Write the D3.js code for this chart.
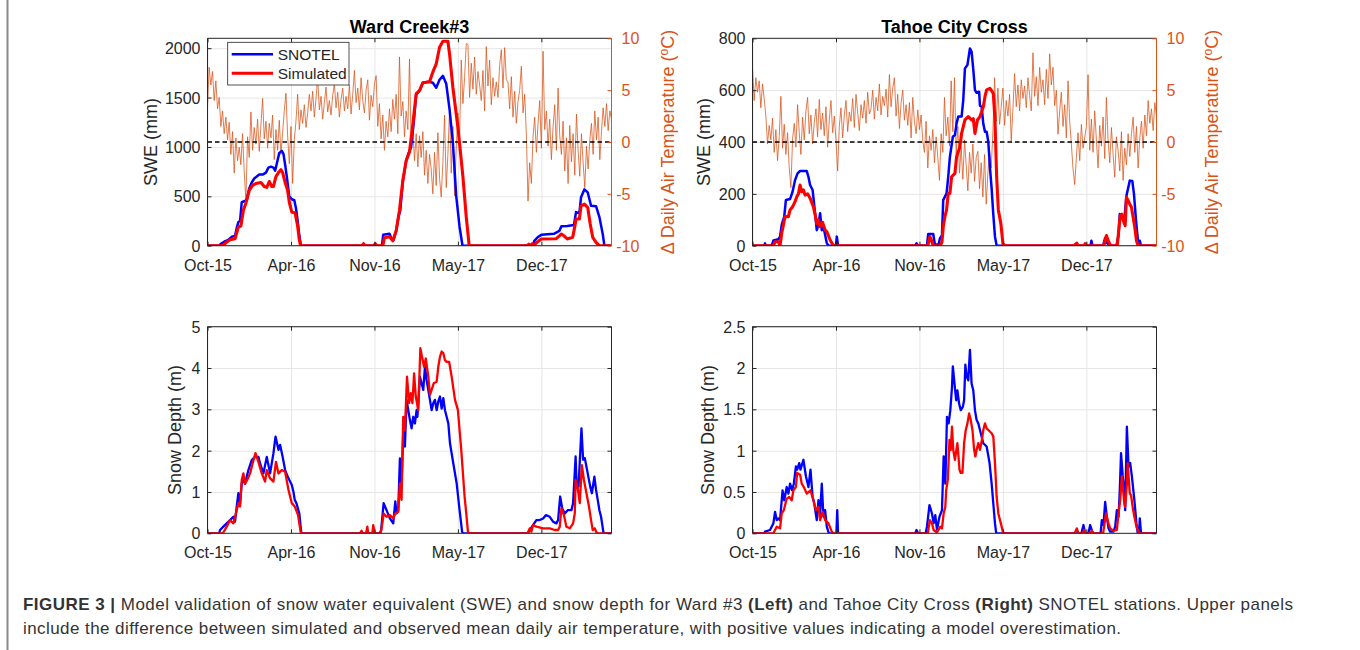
<!DOCTYPE html>
<html>
<head>
<meta charset="utf-8">
<script src="https://cdn.jsdelivr.net/npm/d3@7"></script>
<style>
  html, body { margin: 0; padding: 0; background: #ffffff; }
  svg text { font-family: "Liberation Sans", Arial, Helvetica, sans-serif; }
</style>
</head>
<body>
<svg id="fig" width="1360" height="650"></svg>
<script>
// ---------------------------------------------------------------
// Time axis: days since 1 Oct 2015
// ---------------------------------------------------------------
const dayDomain = [0, 968];
const dayTicks = [0, 200, 400, 600, 800];
const tickLabels = ["Oct-15", "Apr-16", "Nov-16", "May-17", "Dec-17"];

const sweTicksWard = [0, 500, 1000, 1500, 2000];
const sweTicksTahoe = [0, 200, 400, 600, 800];
const depthTicksWard = [0, 1, 2, 3, 4, 5];
const depthTicksTahoe = [0, 0.5, 1, 1.5, 2, 2.5];
const tempTicks = [-10, -5, 0, 5, 10];

// Temperature difference (simulated - observed), one value every tempStep days
const tempStep = 4;
const wardTemp = [
  3.4, 7.2, 5.5, 6.8, 4.0, 5.9, 3.2, 4.3, 1.5, 3.0, 0.8, 2.4,
  0.2, 1.9, -1.2, 1.0, -3.0, 0.4, -1.8, -0.5, -2.2, 0.8, -2.9, -5.7,
  0.5, -1.5, 2.9, -0.8, 1.4, -0.2, 2.2, -0.9, 1.6, 4.2, 0.3, 2.0, -0.6, 1.8,
  0.4, 2.6, -1.7, 1.2, -0.8, 2.1, -1.2, 0.9, 3.0, 4.7, 0.6, -2.1, 1.5, -4.0, 0.2,
  2.0, 4.6, 1.2, 3.1, 1.8, 3.6, 1.4, 2.8, 4.6,
  3.0, 4.9, 2.4, 4.2, 6.2, 3.1, 4.4, 2.2, 3.8, 5.3, 2.9, 4.0,
  2.6, 4.5, 5.6, 3.3, 4.8, 2.4, 4.1, 5.2, 3.0, 4.4,
  3.2, 5.5, 2.7, 4.6, 6.9, 3.8, 5.2, 3.1, 6.2, 4.0,
  2.8, 5.0, 6.0, 2.1, 4.5, 3.4, 5.6, 6.4,
  1.5, 3.7, 0.3, 2.6, -0.8, 2.0, 0.5, 3.2,
  1.0, 4.1, 2.2, 4.6, 0.8, 8.2, 2.5, 3.9, 0.5, 3.0,
  1.2, 8.0, -0.6, 1.4, -1.8, 0.8, -2.4, 0.6,
  -1.5, 1.0, -3.2, -0.8, -4.0, -1.2,
  -2.6, -5.0, -1.0, -4.2, 0.9, -3.5, -5.3, -2.0, 2.6, -4.4, -1.2, 3.2,
  -3.0, 1.5, -5.2, -0.5, 2.8, 0.4,
  7.9, 3.7, 6.2, 9.5,
  9.4, 4.3, 7.6, 5.1, 8.2, 4.6, 6.8, 5.5,
  4.0, 6.9, 3.0, 9.2, 5.4, 7.9, 3.6, 6.2, 4.4, 5.8,
  4.3, 7.4, 8.9, 5.2, 9.1, 6.0,
  5.8, 3.2, 6.3, 2.4, 4.9, 1.8, 3.9, 5.0,
  7.3, 2.8, 4.6, 0.7,
  -5.7, -2.0, -4.0,
  0.5, 2.4, -1.0, 1.8, 4.0, -0.6,
  8.75, 1.2, 3.0, -0.4, 2.2, -1.7, 1.5, 3.6, -0.8, 5.2, 0.6,
  -1.2, 2.0, -2.8, 0.4, -4.0, 1.6, -1.9, 0.8, -3.2, 2.7,
  -0.8, -3.3, 0.8, -2.0, -4.4, -0.4, -2.6, 0.2,
  1.8, -1.2, 3.0, 0.2, 2.4, -1.7, 1.0, 3.3,
  1.5, 3.7, 1.1, 3.0, 2.2
];
const tahoeTemp = [
  7.2, 4.0, 6.2, 4.8, 5.9, 3.3, 5.6, 4.2,
  2.5, -0.2, 1.6,
  0.2, 2.3, -1.0, 1.2, -1.8, 0.5, 4.4, -0.6,
  1.7, -1.2, 0.9, -2.5, -4.4, 0.3,
  1.8, -0.5, 3.6, 0.9, -1.2, 2.4, 0.2, 3.0,
  4.3, 0.8, 2.6, -0.2, 1.9, 3.2, 0.5, 4.1, 1.2, 2.8,
  0.6, 3.4, -0.5, 2.1, 4.0, 0.9, 2.5, 0.2,
  -2.8, 1.5, 3.3, 0.4, 2.6, 4.0, 1.0, 2.9,
  2.0, 4.2, 1.4, 4.6, 2.8, 1.1, 3.6, 2.3, 4.0, 1.8, 4.8, 2.7,
  3.2, 5.0, 2.2, 4.3, 3.0, 5.6, 2.6, 4.4, 3.5, 5.1, 2.4, 6.5,
  3.4, 5.2, 6.2, 2.5, 4.6, 1.3, 3.8, 5.0, 2.1, 3.6,
  1.6, 3.8, 0.4, 4.3, 2.0, 0.8, 3.1, 1.2, 2.6, 0.1,
  -1.0, 2.0, -2.5, 0.6, -0.8, 1.2, -2.0, 0.5,
  -1.5, -3.7, 0.8, -1.0,
  4.3, 0.6, 2.4, -0.4, 5.9, 1.0,
  6.2, -1.2, 1.5, -3.0,
  -0.5, -3.6, 0.2, -2.2, -4.7, -1.0, -3.0, -0.2,
  -3.8, -1.5, -0.9, -4.5, -2.0, -5.3, -1.2, -6.0, -3.0, -0.8,
  -2.5, 1.0, 6.2, 2.0, 5.2, 1.7,
  3.4, 5.2, 1.6, 4.0, 2.5, 4.6, 0.1, 3.2,
  6.6, 3.4, 5.5, 3.0, 6.0, 4.2, 5.4, 3.3, 6.2, 4.5,
  3.0, 8.6, 4.4, 6.3, 3.5, 7.2, 4.8, 6.0, 3.6, 7.0, 4.2, 8.5,
  5.5, 7.2, 3.5, 5.0, 0.75, 3.0,
  4.8, 1.5, 3.6, 0.4, 5.9, 2.0,
  -0.2, -2.6, -4.1, -1.5,
  0.9, -1.8, 1.7, -0.6, 0.4, 1.5, 6.5, -0.8,
  2.2, -1.0, 3.0, 0.2, -2.5, 1.6, -0.4, 2.4, -1.6, 4.3,
  0.2, -2.0, 1.4, -1.2, -3.4, 0.5, -0.8, -2.8, 1.0, -3.7, -0.6, -2.2, 0.8, -1.4,
  0.8, 2.4, -1.0, 1.5, -2.5, 0.4, 2.0, -0.6,
  2.6, 0.6, 4.0, 1.8, 3.2, 1.1, 3.8, 2.5
];

// Snow water equivalent (mm) as [day, value] vertices
const wardSweObs = [
  [0,0],[28,0],[32,20],[40,40],[50,60],[58,90],[66,100],[70,180],[74,240],[78,250],[82,440],[88,450],
  [94,460],[100,580],[106,640],[112,680],[118,700],[124,720],[132,720],[140,740],[146,790],[152,800],
  [158,790],[162,760],[166,830],[172,940],[178,960],[182,930],[186,820],[190,700],[196,500],[202,470],
  [208,460],[212,380],[216,250],[220,100],[224,0],
  [418,0],[421,110],[436,120],[440,80],[446,60],[452,150],[458,300],[462,360],[468,650],[476,860],
  [482,940],[488,1000],[494,1240],[500,1530],[508,1570],[516,1650],[530,1660],[540,1650],[548,1600],
  [556,1680],[564,1720],[572,1640],[580,1380],[588,1040],[596,500],[604,190],[611,0],
  [780,0],[783,50],[791,85],[800,110],[830,120],[843,150],[848,196],[862,200],[878,210],[883,340],
  [891,330],[895,490],[903,570],[911,540],[919,404],[931,400],[939,290],[947,118],[951,0],[968,0]
];
const wardSweSim = [
  [0,0],[36,0],[44,30],[54,60],[66,70],[74,190],[80,200],[86,360],[92,430],[100,560],[108,610],
  [116,630],[128,640],[136,600],[142,590],[148,650],[154,600],[158,600],[164,700],[170,740],[176,770],
  [180,740],[186,640],[192,560],[196,440],[202,340],[210,330],[216,200],[220,60],[223,0],
  [370,0],[374,20],[378,0],[398,0],[402,20],[406,0],[420,0],[424,80],[436,90],[444,50],[452,150],
  [460,360],[468,660],[476,860],[484,950],[492,1230],[500,1540],[508,1570],[516,1650],[532,1660],
  [540,1760],[548,1840],[556,2010],[564,2070],[576,2070],[580,1940],[588,1600],[600,1200],[612,700],
  [620,290],[627,0],
  [765,0],[770,15],[774,0],[778,20],[782,0],[788,30],[800,68],[835,70],[843,100],[848,118],[854,100],
  [862,68],[875,85],[879,170],[883,270],[891,270],[895,404],[903,421],[911,387],[917,219],[923,85],
  [931,34],[939,0],[968,0]
];
const tahoeSweObs = [
  [0,0],[28,0],[30,9],[32,0],[46,0],[50,20],[62,25],[66,35],[70,80],[76,112],[80,176],[90,180],
  [96,208],[102,253],[108,279],[114,288],[130,288],[134,266],[138,234],[144,215],[150,125],[154,60],
  [158,80],[162,125],[166,60],[170,73],[178,10],[182,0],[200,0],[202,35],[205,0],
  [390,0],[393,9],[396,0],[418,0],[421,45],[433,45],[437,5],[446,5],[449,28],[454,40],[457,176],
  [465,202],[469,266],[473,343],[480,420],[485,427],[489,472],[493,498],[501,498],[505,562],[509,684],
  [515,697],[521,761],[525,748],[529,680],[533,600],[537,590],[543,594],[545,540],[549,536],[553,470],
  [557,440],[561,440],[565,400],[569,300],[573,220],[577,120],[581,35],[585,0],
  [810,0],[812,19],[815,0],[840,0],[845,30],[850,10],[855,0],[872,0],[877,40],[880,122],[886,110],
  [888,96],[892,120],[896,193],[904,251],[910,250],[914,200],[919,96],[924,13],[926,0],[928,19],
  [931,0],[968,0]
];
const tahoeSweSim = [
  [0,0],[50,0],[54,15],[62,15],[66,0],[70,48],[78,112],[86,112],[90,138],[96,150],[102,170],[106,189],
  [110,200],[114,234],[118,208],[122,215],[126,195],[132,200],[138,183],[146,150],[150,120],[154,86],
  [158,100],[162,73],[168,90],[174,60],[178,54],[186,22],[194,0],
  [420,0],[425,35],[429,20],[433,0],[450,0],[454,15],[457,73],[461,112],[465,138],[469,202],[473,202],
  [477,266],[485,279],[489,343],[497,382],[501,433],[509,485],[517,498],[525,485],[529,490],[533,433],
  [539,485],[545,498],[553,536],[557,575],[561,601],[569,607],[577,588],[581,485],[585,266],[589,138],
  [595,86],[600,9],[605,0],
  [770,0],[777,10],[780,0],[795,0],[797,8],[800,0],[842,0],[848,39],[852,20],[858,0],[874,0],[877,50],
  [881,115],[885,122],[890,90],[893,77],[896,187],[900,174],[904,160],[908,148],[912,110],[916,71],
  [920,19],[924,0],[968,0]
];

// Snow depth (m) as [day, value] vertices
const wardDepthObs = [
  [0,0],[28,0],[30,0.08],[38,0.16],[46,0.24],[54,0.32],[62,0.4],[66,0.28],[70,0.65],[74,0.97],[78,0.73],
  [82,1.2],[86,1.33],[90,1.2],[94,1.37],[98,1.53],[102,1.65],[106,1.77],[114,1.85],[122,1.85],[126,1.69],
  [134,1.45],[142,1.85],[150,1.45],[158,1.94],[163,2.34],[170,2.02],[174,2.14],[180,1.85],[186,1.53],
  [194,1.33],[202,1.17],[206,1.0],[209,0.81],[213,0.73],[220,0.48],[224,0.08],[225,0],
  [413,0],[416,0.08],[419,0.4],[422,0.73],[429,0.56],[437,0.36],[445,0.24],[450,0.77],[453,0.48],
  [457,0.56],[461,1.81],[465,1.17],[469,2.46],[473,2.1],[477,3.23],[481,2.98],[485,2.74],[489,2.54],
  [493,2.82],[497,2.66],[501,2.98],[503,2.82],[509,3.79],[513,3.63],[517,3.47],[521,4.03],[525,3.71],
  [529,3.47],[533,3.23],[537,2.98],[541,3.15],[545,3.23],[549,2.98],[553,3.19],[557,3.31],[561,3.02],
  [565,3.27],[569,2.98],[573,2.82],[577,2.66],[581,2.18],[589,1.69],[597,1.21],[604,0.56],[610,0.04],
  [612,0],
  [768,0],[772,0.08],[780,0.2],[788,0.32],[796,0.32],[804,0.36],[811,0.44],[820,0.4],[828,0.28],
  [836,0.24],[840,0.32],[845,0.89],[850,0.6],[856,0.48],[863,0.56],[872,0.56],[876,0.73],[882,1.86],
  [884,1.29],[889,1.13],[896,2.54],[900,1.78],[904,1.82],[908,1.61],[911,1.45],[917,1.13],[921,0.97],
  [927,1.37],[931,1.05],[935,0.81],[939,0.56],[943,0.4],[949,0],[968,0]
];
const wardDepthSim = [
  [0,0],[36,0],[38,0.02],[46,0.16],[54,0.32],[62,0.24],[70,0.56],[74,0.73],[78,0.65],[82,1.29],
  [86,1.45],[90,1.2],[95,1.29],[102,1.45],[108,1.69],[115,1.94],[122,1.73],[130,1.45],[138,1.25],
  [142,1.53],[150,1.33],[158,1.25],[164,1.73],[170,1.45],[178,1.53],[186,1.49],[194,1.05],[202,0.73],
  [209,0.65],[217,0.44],[223,0.04],[225,0],
  [365,0],[369,0.06],[372,0],[380,0],[383,0.16],[385,0],[395,0],[397,0.2],[401,0],[415,0],[419,0.24],
  [422,0.48],[429,0.4],[437,0.44],[445,0.36],[450,0.48],[457,0.52],[461,1.21],[465,0.81],[469,2.82],
  [473,2.5],[478,3.79],[483,3.15],[487,3.39],[491,3.15],[495,3.87],[499,3.31],[505,2.98],[510,4.48],
  [514,4.27],[519,4.03],[523,4.23],[529,3.79],[533,3.35],[537,3.47],[542,3.63],[549,3.67],[553,4.03],
  [557,4.27],[561,4.4],[565,4.36],[569,4.19],[573,4.15],[579,4.15],[585,3.79],[593,3.23],[600,2.98],
  [608,2.02],[616,0.89],[620,0.48],[624,0.04],[627,0],
  [765,0],[768,0.02],[772,0.12],[776,0.04],[780,0.2],[788,0.16],[804,0.12],[820,0.12],[832,0.08],
  [840,0.08],[844,0.16],[848,0.6],[854,0.44],[860,0.16],[868,0.12],[876,0.24],[880,0.48],[882,1.29],
  [887,1.09],[892,0.73],[897,1.65],[902,1.29],[908,0.97],[914,0.65],[919,0.32],[923,0.08],[928,0.12],
  [932,0.02],[935,0],[968,0]
];
const tahoeDepthObs = [
  [0,0],[28,0],[30,0.02],[42,0.04],[50,0.12],[54,0.26],[58,0.16],[62,0.18],[66,0.16],[72,0.52],[76,0.4],
  [82,0.56],[86,0.48],[90,0.6],[95,0.52],[99,0.6],[104,0.81],[107,0.77],[112,0.85],[115,0.77],[122,0.89],
  [128,0.69],[134,0.56],[139,0.77],[144,0.44],[148,0.36],[154,0.16],[158,0.4],[162,0.24],[166,0.6],
  [170,0.2],[174,0.28],[178,0.08],[183,0],[201,0],[203,0.28],[205,0],
  [390,0],[393,0.04],[397,0],[415,0],[418,0.08],[424,0.34],[430,0.24],[434,0.12],[438,0.22],[442,0.04],
  [448,0.2],[454,0.28],[458,0.93],[462,0.6],[466,1.41],[470,1.33],[474,1.49],[478,1.77],[480,2.02],
  [484,1.81],[488,1.61],[491,1.73],[495,1.57],[499,1.49],[504,1.53],[507,1.61],[510,2.04],[513,1.9],
  [517,1.85],[521,2.22],[525,1.81],[529,1.73],[533,1.49],[537,1.37],[541,1.33],[545,1.25],[553,1.09],
  [561,1.05],[568,0.85],[573,0.6],[577,0.36],[581,0.12],[584,0],
  [788,0],[793,0.1],[797,0],[805,0],[809,0.1],[814,0.02],[817,0],[834,0],[837,0.16],[841,0.1],
  [845,0.38],[849,0.2],[853,0.06],[857,0.02],[865,0.02],[869,0.08],[873,0.28],[877,0.2],[880,0.52],
  [883,0.97],[887,0.7],[889,0.6],[893,0.28],[897,1.29],[901,0.81],[905,0.85],[909,0.69],[915,0.4],
  [920,0.12],[923,0],[926,0],[928,0.18],[931,0],[968,0]
];
const tahoeDepthSim = [
  [0,0],[50,0],[58,0.08],[66,0.06],[70,0.24],[75,0.28],[82,0.42],[88,0.44],[94,0.4],[98,0.52],
  [104,0.56],[107,0.73],[114,0.71],[118,0.6],[123,0.56],[130,0.48],[139,0.52],[146,0.4],[152,0.28],
  [158,0.32],[162,0.16],[168,0.26],[174,0.16],[182,0.12],[190,0.02],[194,0],
  [420,0],[425,0.16],[430,0.12],[434,0.04],[442,0.01],[450,0.08],[454,0.06],[458,0.24],[462,0.32],
  [464,0.52],[468,0.65],[472,1.13],[475,1.01],[478,1.29],[481,1.01],[485,0.89],[491,1.09],[496,0.77],
  [499,0.73],[503,0.73],[507,1.09],[511,1.25],[515,1.33],[519,1.45],[523,1.37],[527,1.25],[531,1.01],
  [534,0.93],[537,1.01],[541,1.09],[545,1.01],[549,1.11],[553,1.25],[557,1.33],[561,1.27],[565,1.25],
  [573,1.21],[577,1.17],[581,0.85],[585,0.44],[589,0.24],[595,0.12],[600,0.02],[603,0],
  [772,0],[777,0.06],[781,0],[790,0],[795,0.04],[799,0],[810,0],[813,0.03],[817,0],[840,0],[843,0.1],
  [847,0.24],[853,0.12],[857,0.06],[865,0.03],[873,0.04],[877,0.24],[881,0.4],[885,0.69],[891,0.36],
  [893,0.32],[897,0.6],[899,0.85],[904,0.48],[907,0.46],[912,0.28],[916,0.18],[920,0.08],[925,0.02],
  [928,0],[968,0]
];

const seriesNames = ["SNOTEL", "Simulated"];

// ---------------------------------------------------------------
// Drawing
// ---------------------------------------------------------------
const svg = d3.select("#fig");
const AXIS = "#262626";
const GRID = "#e6e6e6";
const ORANGE = "#D95319";
const BLUE = "#0000FF";
const RED = "#FF0000";
const TICK_FONT = 16;
const LABEL_FONT = 18;
const fmt = d => String(d);

let clipId = 0;

function styleAxis(sel, color) {
  sel.select(".domain").remove();
  sel.selectAll(".tick line").attr("stroke", color).attr("stroke-width", 1);
  sel.selectAll(".tick text")
    .attr("fill", color)
    .attr("font-size", TICK_FONT)
    .attr("font-family", '"Liberation Sans", Arial, Helvetica, sans-serif');
}

function drawPanel(p) {
  const g = svg.append("g").attr("transform", `translate(${p.left},${p.top})`);
  const x = d3.scaleLinear().domain(dayDomain).range([0, p.width]);
  const y = d3.scaleLinear().domain(p.yDomain).range([p.height, 0]);

  // grid
  const gx = g.append("g").call(d3.axisBottom(x).tickValues(dayTicks).tickSize(p.height).tickFormat(""));
  gx.select(".domain").remove();
  gx.selectAll(".tick line").attr("stroke", GRID).attr("stroke-width", 1);
  const gy = g.append("g").call(d3.axisLeft(y).tickValues(p.yTicks).tickSize(-p.width).tickFormat(""));
  gy.select(".domain").remove();
  gy.selectAll(".tick line").attr("stroke", GRID).attr("stroke-width", 1);

  const id = "clip" + (clipId++);
  g.append("clipPath").attr("id", id)
    .append("rect").attr("x", 0).attr("y", -2).attr("width", p.width).attr("height", p.height + 2);
  const plot = g.append("g").attr("clip-path", `url(#${id})`);

  let yT = null;
  if (p.temp) {
    yT = d3.scaleLinear().domain([-10, 10]).range([p.height, 0]);
    const tLine = d3.line().x((d, i) => x(i * tempStep)).y(d => yT(d));
    plot.append("path").datum(p.temp)
      .attr("d", tLine).attr("fill", "none")
      .attr("stroke", ORANGE).attr("stroke-width", 0.9).attr("stroke-opacity", 0.85)
      .attr("stroke-linejoin", "round");
    plot.append("line")
      .attr("x1", 0).attr("x2", p.width).attr("y1", yT(0)).attr("y2", yT(0))
      .attr("stroke", "#000").attr("stroke-width", 1.3).attr("stroke-dasharray", "4.5,3");
  }

  const line = d3.line().x(d => x(d[0])).y(d => y(d[1]));
  plot.append("path").datum(p.obs).attr("d", line).attr("fill", "none")
    .attr("stroke", BLUE).attr("stroke-width", p.obsWidth).attr("stroke-linejoin", "round");
  plot.append("path").datum(p.sim).attr("d", line).attr("fill", "none")
    .attr("stroke", RED).attr("stroke-width", p.simWidth).attr("stroke-linejoin", "round");

  // box
  const box = g.append("g").attr("fill", "none").attr("stroke-width", 1);
  box.append("line").attr("x1", 0).attr("x2", p.width).attr("y1", 0).attr("y2", 0).attr("stroke", AXIS);
  box.append("line").attr("x1", 0).attr("x2", p.width).attr("y1", p.height).attr("y2", p.height).attr("stroke", AXIS);
  box.append("line").attr("x1", 0).attr("x2", 0).attr("y1", 0).attr("y2", p.height).attr("stroke", AXIS);
  box.append("line").attr("x1", p.width).attr("x2", p.width).attr("y1", 0).attr("y2", p.height)
    .attr("stroke", p.temp ? ORANGE : AXIS);

  // axes
  const ab = g.append("g").attr("transform", `translate(0,${p.height})`)
    .call(d3.axisBottom(x).tickValues(dayTicks).tickFormat((d, i) => tickLabels[i])
      .tickSizeInner(-4).tickSizeOuter(0).tickPadding(13.6));
  styleAxis(ab, AXIS);
  const at = g.append("g")
    .call(d3.axisTop(x).tickValues(dayTicks).tickFormat("").tickSizeInner(-4).tickSizeOuter(0));
  styleAxis(at, AXIS);
  const al = g.append("g")
    .call(d3.axisLeft(y).tickValues(p.yTicks).tickFormat(fmt).tickSizeInner(-4).tickSizeOuter(0).tickPadding(7));
  styleAxis(al, AXIS);
  al.selectAll(".tick text").attr("dy", "0.34em");

  if (p.temp) {
    const ar = g.append("g").attr("transform", `translate(${p.width},0)`)
      .call(d3.axisRight(yT).tickValues(tempTicks).tickFormat(fmt).tickSizeInner(-4).tickSizeOuter(0).tickPadding(10));
    styleAxis(ar, ORANGE);
    ar.selectAll(".tick text").attr("dy", "0.34em").attr("dx", d => d < 0 ? -5.3 : 0);
  } else {
    const ar = g.append("g").attr("transform", `translate(${p.width},0)`)
      .call(d3.axisRight(y).tickValues(p.yTicks).tickFormat("").tickSizeInner(-4).tickSizeOuter(0));
    styleAxis(ar, AXIS);
  }

  // y label
  g.append("text")
    .attr("transform", `translate(${p.ylabX - p.left},${p.height / 2}) rotate(-90)`)
    .attr("text-anchor", "middle").attr("dy", "0.35em")
    .attr("font-size", LABEL_FONT).attr("fill", AXIS)
    .text(p.ylabel);

  if (p.temp) {
    const t = g.append("text")
      .attr("transform", `translate(${p.tlabX - p.left},${p.height / 2}) rotate(-90)`)
      .attr("text-anchor", "middle").attr("dy", "0.35em")
      .attr("font-size", LABEL_FONT).attr("fill", ORANGE);
    t.append("tspan").text("\u0394 Daily Air Temperature (");
    t.append("tspan").attr("font-size", 12).attr("dy", "-0.55em").text("o");
    t.append("tspan").attr("dy", "0.36em").text("C)");
  }

  if (p.title) {
    g.append("text")
      .attr("x", p.width / 2).attr("y", -5.3)
      .attr("text-anchor", "middle").attr("font-weight", "bold")
      .attr("font-size", 18).attr("fill", "#000")
      .text(p.title);
  }

  if (p.legend) {
    const lg = g.append("g").attr("transform", "translate(20.2,4)");
    lg.append("rect").attr("x", 0).attr("y", 0).attr("width", 121.3).attr("height", 42.7)
      .attr("fill", "#fff").attr("stroke", AXIS).attr("stroke-width", 0.8);
    const rows = [[seriesNames[0], BLUE, 12, p.obsWidth], [seriesNames[1], RED, 31, p.simWidth]];
    rows.forEach(r => {
      lg.append("line").attr("x1", 4).attr("x2", 45.3).attr("y1", r[2]).attr("y2", r[2])
        .attr("stroke", r[1]).attr("stroke-width", r[3]);
      lg.append("text").attr("x", 50).attr("y", r[2] + 5.6)
        .attr("font-size", 15.5).attr("fill", AXIS).text(r[0]);
    });
  }
}

drawPanel({ left: 207.5, top: 38.3, width: 404, height: 207.4,
  yDomain: [0, 2100], yTicks: sweTicksWard, ylabel: "SWE (mm)", ylabX: 151, tlabX: 668,
  temp: wardTemp, obs: wardSweObs, sim: wardSweSim, obsWidth: 2.5, simWidth: 3.1,
  title: "Ward Creek#3", legend: true });
drawPanel({ left: 752.5, top: 38.3, width: 404, height: 207.4,
  yDomain: [0, 800], yTicks: sweTicksTahoe, ylabel: "SWE (mm)", ylabX: 704, tlabX: 1212,
  temp: tahoeTemp, obs: tahoeSweObs, sim: tahoeSweSim, obsWidth: 2.5, simWidth: 3.1,
  title: "Tahoe City Cross" });
drawPanel({ left: 207.5, top: 326.7, width: 404, height: 206.6,
  yDomain: [0, 5], yTicks: depthTicksWard, ylabel: "Snow Depth (m)", ylabX: 175,
  obs: wardDepthObs, sim: wardDepthSim, obsWidth: 2.3, simWidth: 2.3 });
drawPanel({ left: 752.5, top: 326.7, width: 404, height: 206.6,
  yDomain: [0, 2.5], yTicks: depthTicksTahoe, ylabel: "Snow Depth (m)", ylabX: 708,
  obs: tahoeDepthObs, sim: tahoeDepthSim, obsWidth: 2.3, simWidth: 2.3 });

// frame line on the left of the figure block
svg.append("line").attr("x1", 7.5).attr("x2", 7.5).attr("y1", 0).attr("y2", 650)
  .attr("stroke", "#8a8a8a").attr("stroke-width", 2);

// caption
const capColor = "#333333";
const cap1 = svg.append("text").attr("x", 23).attr("y", 610)
  .attr("font-size", 17).attr("fill", capColor)
  .attr("textLength", 1270).attr("lengthAdjust", "spacing");
cap1.append("tspan").attr("font-weight", "bold").text("FIGURE 3 |");
cap1.append("tspan").text(" Model validation of snow water equivalent (SWE) and snow depth for Ward #3 ");
cap1.append("tspan").attr("font-weight", "bold").text("(Left)");
cap1.append("tspan").text(" and Tahoe City Cross ");
cap1.append("tspan").attr("font-weight", "bold").text("(Right)");
cap1.append("tspan").text(" SNOTEL stations. Upper panels");

svg.append("text").attr("x", 23).attr("y", 634)
  .attr("font-size", 17).attr("fill", capColor)
  .attr("textLength", 1098).attr("lengthAdjust", "spacing")
  .text("include the difference between simulated and observed mean daily air temperature, with positive values indicating a model overestimation.");
</script>
</body>
</html>
